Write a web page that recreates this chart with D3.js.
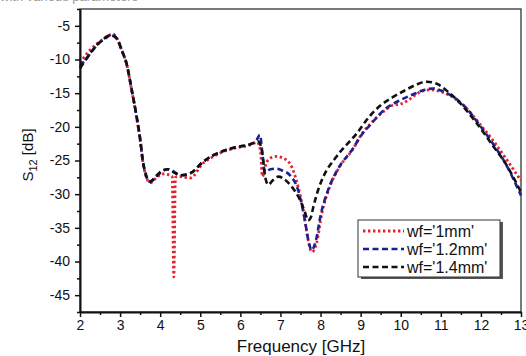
<!DOCTYPE html>
<html>
<head>
<meta charset="utf-8">
<script src="https://cdn.jsdelivr.net/npm/d3@7"></script>
<style>
  body { margin: 0; background: #fff; }
  text { font-family: "Liberation Sans", Arial, sans-serif; }
</style>
</head>
<body>
<div id="chart-area"></div>
<script>
// S12 vs frequency for three feed widths
var freq1 = [2.0, 2.25, 2.5, 2.7, 2.82, 2.95, 3.05, 3.16, 3.29, 3.41, 3.5, 3.56, 3.65, 3.75, 3.9, 4.05, 4.2, 4.3, 4.34, 4.38, 4.5, 4.75, 5.07, 5.3, 5.57, 5.91, 6.24, 6.42, 6.5, 6.55, 6.65, 6.8, 6.9, 7.05, 7.24, 7.44, 7.57, 7.69, 7.78, 7.9, 8.03, 8.23, 8.48, 8.82, 9.0, 9.3, 9.6, 9.8, 10.0, 10.2, 10.4, 10.6, 10.75, 11.0, 11.3, 11.6, 12.0, 12.3, 12.6, 13.0];
var s12_1 = [-10.5, -8.6, -7.3, -6.5, -6.2, -7.2, -8.8, -10.6, -14.6, -18.6, -22, -24.9, -27.4, -28.3, -27.6, -27.0, -27.1, -27.4, -42.3, -27.5, -27.4, -27.6, -25.4, -24.5, -23.7, -23.1, -22.7, -22.3, -23.5, -27.4, -25.3, -24.5, -24.4, -24.6, -25.5, -28.9, -32.4, -36.8, -38.6, -37.3, -32.9, -28.9, -25.9, -23.2, -21.3, -19.2, -17.6, -16.8, -16.6, -16.0, -15.1, -14.6, -14.5, -14.8, -15.6, -17.0, -19.8, -22.0, -24.5, -28.0];

var freq2 = [2.0, 2.17, 2.42, 2.65, 2.8, 2.95, 3.05, 3.16, 3.29, 3.41, 3.5, 3.56, 3.65, 3.75, 3.9, 4.05, 4.2, 4.35, 4.5, 4.75, 5.07, 5.3, 5.57, 5.91, 6.24, 6.4, 6.49, 6.55, 6.61, 6.75, 6.9, 7.05, 7.24, 7.44, 7.61, 7.7, 7.78, 7.88, 8.0, 8.2, 8.45, 8.8, 9.0, 9.3, 9.6, 9.8, 10.0, 10.3, 10.6, 10.8, 11.0, 11.3, 11.6, 12.0, 12.3, 12.6, 13.0];
var s12_2 = [-11.0, -9.8, -7.9, -6.8, -6.3, -7.2, -8.8, -10.6, -14.5, -18.4, -21.8, -24.8, -27.3, -28.2, -27.4, -26.6, -26.3, -26.7, -27.2, -26.9, -25.2, -24.3, -23.6, -23.0, -22.6, -22.0, -21.2, -24.0, -26.7, -26.3, -26.2, -26.5, -27.2, -29.4, -33.9, -37.0, -38.3, -37.0, -33.2, -29.2, -26.1, -23.3, -21.4, -19.3, -17.4, -16.6, -16.0, -15.2, -14.5, -14.3, -14.6, -15.5, -17.0, -20.0, -22.5, -25.3, -30.2];

var freq3 = [2.0, 2.17, 2.42, 2.6, 2.75, 2.9, 3.05, 3.16, 3.29, 3.41, 3.5, 3.56, 3.65, 3.75, 3.9, 4.05, 4.2, 4.35, 4.5, 4.75, 5.07, 5.3, 5.57, 5.91, 6.24, 6.45, 6.55, 6.62, 6.7, 6.8, 6.95, 7.1, 7.24, 7.49, 7.6, 7.69, 7.76, 7.82, 7.95, 8.07, 8.4, 8.9, 9.2, 9.5, 9.8, 10.1, 10.4, 10.65, 10.9, 11.2, 11.5, 11.9, 12.3, 12.6, 13.0];
var s12_3 = [-11.3, -9.8, -7.85, -6.9, -6.4, -6.8, -8.7, -10.6, -14.5, -18.4, -21.8, -24.7, -27.2, -28.1, -27.3, -26.5, -26.3, -26.8, -27.2, -26.9, -25.2, -24.3, -23.6, -23.0, -22.6, -22.2, -24.0, -27.5, -28.6, -28.0, -27.4, -27.8, -28.6, -30.9, -32.5, -33.9, -33.4, -31.9, -29.2, -27.4, -24.4, -21.0, -18.6, -16.8, -15.6, -14.6, -13.7, -13.3, -13.6, -14.9, -16.6, -19.5, -22.8, -25.3, -29.7];

var seriesNames = ["wf='1mm'", "wf='1.2mm'", "wf='1.4mm'"];
var xTicks = [2, 3, 4, 5, 6, 7, 8, 9, 10, 11, 12, 13];
var yTicks = [-5, -10, -15, -20, -25, -30, -35, -40, -45];

var width = 526, height = 356;
var pLeft = 80, pRight = 521, pTop = 9, pBottom = 312;

var svg = d3.select("#chart-area").append("svg")
    .attr("width", width)
    .attr("height", height);

// cut-off caption line at the very top
svg.append("text")
    .attr("x", 0)
    .attr("y", 1)
    .attr("font-size", 13)
    .attr("fill", "#999")
    .text("with various parameters");

var x = d3.scaleLinear().domain([2, 13]).range([pLeft, pRight]);
var y = d3.scaleLinear().domain([-47.5, -2.5]).range([pBottom, pTop]);

// box
svg.append("rect")
    .attr("x", pLeft).attr("y", pTop)
    .attr("width", pRight - pLeft).attr("height", pBottom - pTop)
    .attr("fill", "none").attr("stroke", "#222").attr("stroke-width", 1.2);

var series = [
    {name: seriesNames[0], f: freq1, v: s12_1, color: "#e3232b", dash: "2.4,2.6", w: 2.8},
    {name: seriesNames[1], f: freq2, v: s12_2, color: "#1d1f94", dash: "6,3.5", w: 2.6},
    {name: seriesNames[2], f: freq3, v: s12_3, color: "#111", dash: "6,3.5", w: 2.6}
];

var line = d3.line()
    .x((d)=> x(d[0]))
    .y((d)=> y(d[1]))
    .curve(d3.curveMonotoneX);

series.forEach((s)=>{
    svg.append("path")
        .attr("d", line(s.f.map((f, i)=> [f, s.v[i]])))
        .attr("fill", "none")
        .attr("stroke", s.color)
        .attr("stroke-width", s.w)
        .attr("stroke-dasharray", s.dash);
});

// axes
var xAxis = svg.append("g")
    .attr("transform", "translate(0," + pBottom + ")")
    .call(d3.axisBottom(x).tickValues(xTicks).tickSize(5).tickSizeOuter(0).tickFormat(d3.format("d")));
svg.append("g")
    .attr("transform", "translate(0," + pBottom + ")")
    .call(d3.axisBottom(x).tickValues(d3.range(2.5, 13, 1)).tickSize(3).tickFormat(""))
    .select(".domain").remove();

var yAxis = svg.append("g")
    .attr("transform", "translate(" + pLeft + ",0)")
    .call(d3.axisLeft(y).tickValues(yTicks).tickSize(5).tickSizeOuter(0).tickFormat(d3.format("d")));
svg.append("g")
    .attr("transform", "translate(" + pLeft + ",0)")
    .call(d3.axisLeft(y).tickValues(d3.range(-47.5, -2.4, 5)).tickSize(3).tickFormat(""))
    .select(".domain").remove();

svg.selectAll(".tick line").attr("stroke", "#111").attr("stroke-width", 1.5);
xAxis.select(".domain").attr("stroke", "#111").attr("stroke-width", 2);
yAxis.select(".domain").attr("stroke", "#111").attr("stroke-width", 2);
xAxis.selectAll("text").attr("font-size", 14).attr("fill", "#111").attr("dy", "0.85em").attr("y", 6);
yAxis.selectAll("text").attr("font-size", 14).attr("fill", "#111").attr("x", -10);
yAxis.selectAll("text").text((d)=> d < 0 ? "-" + Math.abs(d) : d);

// axis titles
svg.append("text")
    .attr("x", 301)
    .attr("y", 352)
    .attr("text-anchor", "middle")
    .attr("font-size", 17)
    .attr("fill", "#111")
    .text("Frequency [GHz]");

var yt = svg.append("text")
    .attr("transform", "translate(33,155) rotate(-90)")
    .attr("text-anchor", "middle")
    .attr("font-size", 15)
    .attr("fill", "#111");
yt.append("tspan").text("S");
yt.append("tspan").attr("font-size", 11).attr("dy", 4).text("12");
yt.append("tspan").attr("dy", -4).text(" [dB]");

// legend
var lg = svg.append("g");
lg.append("rect")
    .attr("x", 361).attr("y", 222)
    .attr("width", 142).attr("height", 57)
    .attr("fill", "#555");
lg.append("rect")
    .attr("x", 358).attr("y", 220)
    .attr("width", 142).attr("height", 57)
    .attr("fill", "#fff").attr("stroke", "#333").attr("stroke-width", 1);

series.forEach((s, i)=>{
    var yy = 231 + i * 18;
    lg.append("line")
        .attr("x1", 363).attr("x2", 404)
        .attr("y1", yy).attr("y2", yy)
        .attr("stroke", s.color)
        .attr("stroke-width", s.w)
        .attr("stroke-dasharray", s.dash);
    lg.append("text")
        .attr("x", 407).attr("y", yy + 6)
        .attr("font-size", 16)
        .attr("fill", "#111")
        .text(s.name);
});
</script>
</body>
</html>
